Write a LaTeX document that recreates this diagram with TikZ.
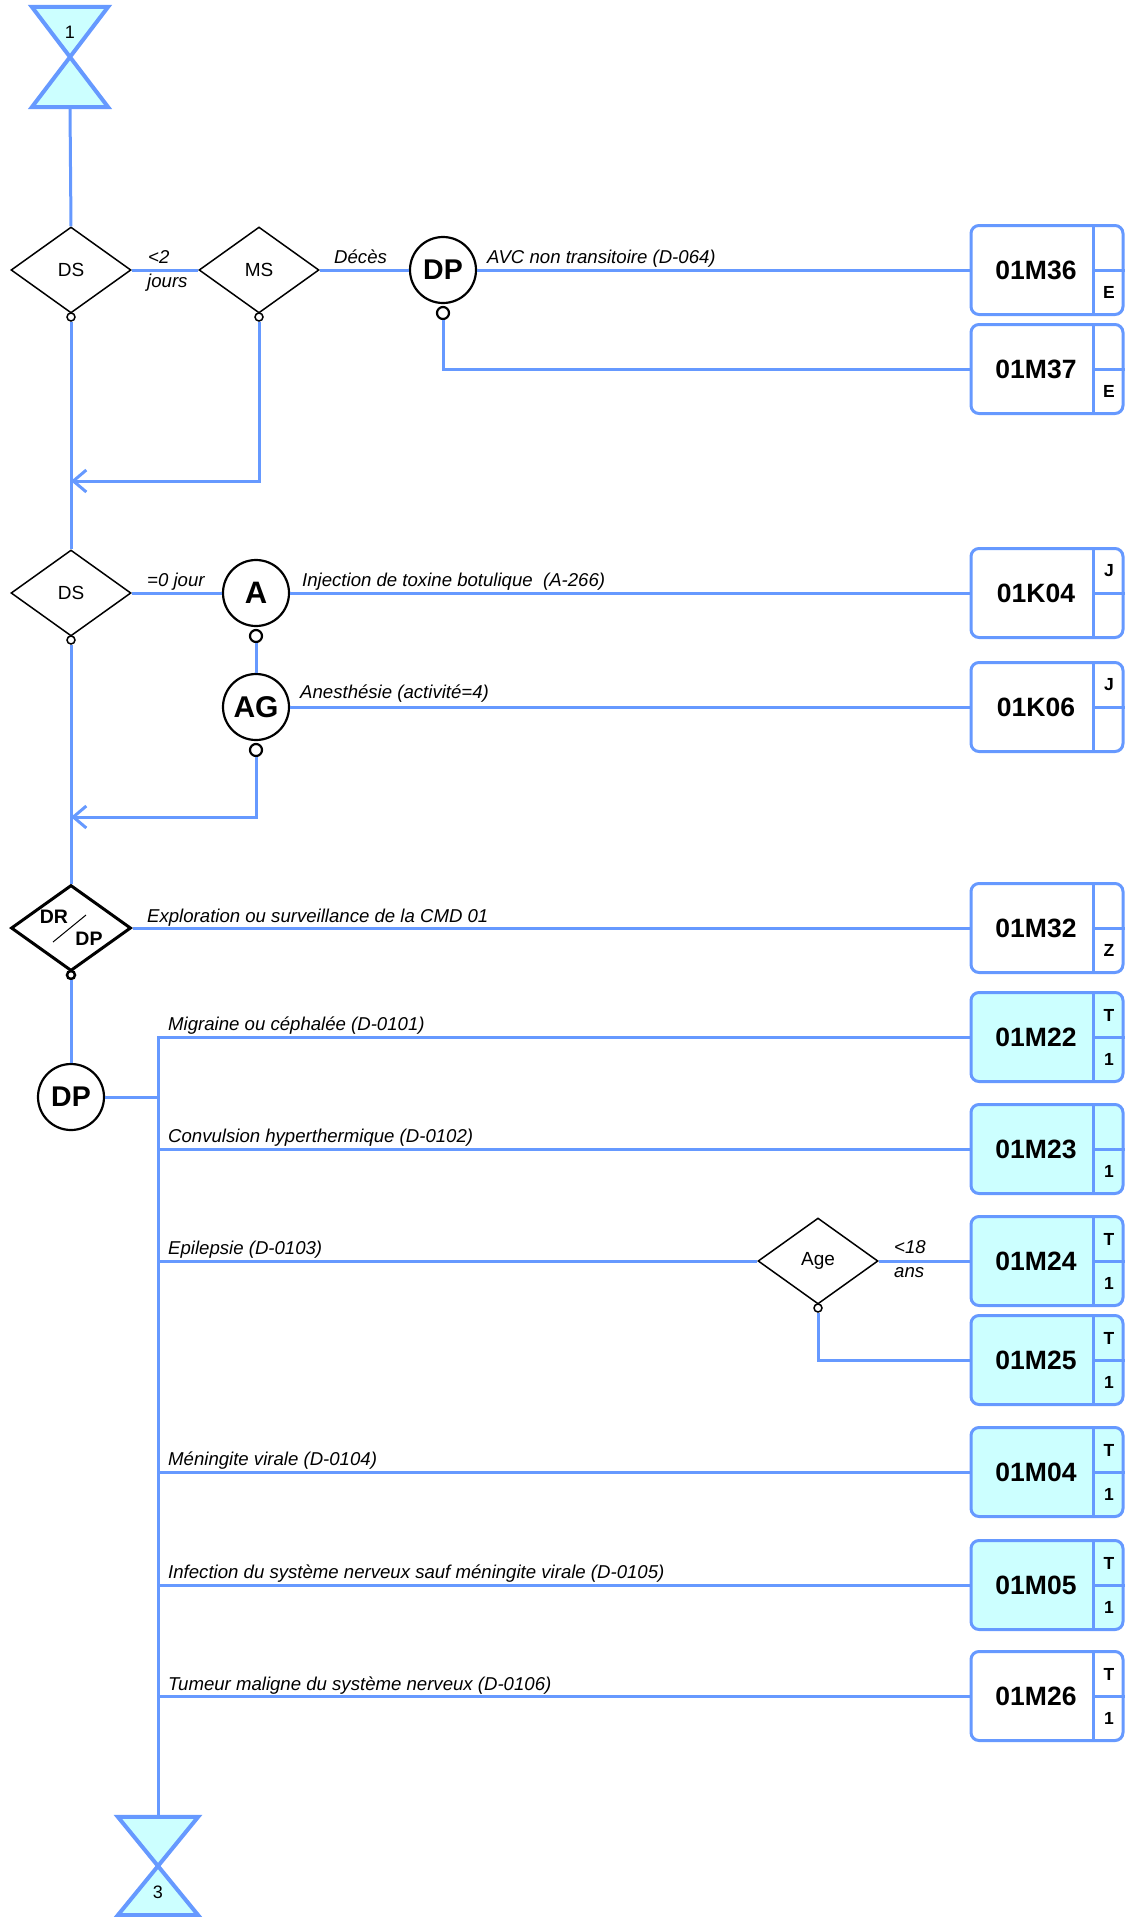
\documentclass[tikz,border=0pt]{standalone}
\usepackage{fontspec}
\setmainfont{Liberation Sans}
\usetikzlibrary{shapes.geometric,arrows.meta,calc}
\definecolor{lblue}{RGB}{102,153,255}
\definecolor{lcyan}{RGB}{204,255,255}
\newcommand\GHMbox[6]{%
  \node[ghm,fill=#6] (#1) at (1047,#2) {};
  \draw[draw=lblue,line width=3pt] ([xshift=-31pt]#1.north east) -- ([xshift=-31pt]#1.south east);
  \draw[draw=lblue,line width=3pt] ([xshift=-31pt]#1.east) -- (#1.east);
  \node[code] (#1c) at ([xshift=-11pt]#1.center) {#3};
  \node[cell] (#1t) at ([xshift=-15.5pt,yshift=22pt]#1.east) {#4};
  \node[cell] (#1b) at ([xshift=-15.5pt,yshift=-22pt]#1.east) {#5};
}
\begin{document}
\begin{tikzpicture}[x=1pt,y=-1pt,
  blueline/.style={draw=lblue,line width=3pt},
  dia/.style={diamond,draw=black,line width=1.5pt,fill=white,minimum width=120pt,minimum height=86pt,inner sep=0pt,font=\fontsize{19}{21}\selectfont},
  circ/.style={circle,draw=black,line width=2.2pt,fill=white,minimum size=66pt,inner sep=0pt,font=\bfseries\fontsize{28.5}{30}\selectfont},
  dot/.style={circle,draw=black,line width=1.5pt,fill=white,minimum size=8pt,inner sep=0pt},
  bigdot/.style={circle,draw=black,line width=2.2pt,fill=white,minimum size=12pt,inner sep=0pt},
  lab/.style={anchor=base west,inner sep=0pt,font=\itshape\fontsize{18.6}{20}\selectfont},
  ghm/.style={rectangle,rounded corners=8pt,draw=lblue,line width=3pt,minimum width=152pt,minimum height=89pt,inner sep=0pt},
  code/.style={font=\bfseries\fontsize{26.5}{28}\selectfont,inner sep=0pt},
  cell/.style={font=\bfseries\fontsize{17.5}{18}\selectfont,inner sep=0pt},
  hg/.style={draw=lblue,line width=4pt,fill=lcyan,line join=miter},
  hgnum/.style={font=\fontsize{18}{20}\selectfont,inner sep=0pt},
  arr/.style={-{Straight Barb[length=13pt,width=22pt,line width=3pt]}},
]
\useasboundingbox (0,0) rectangle (1135,1917);

% hourglasses
\node[minimum width=76pt,minimum height=100pt,inner sep=0pt] (h1) at (70,57) {};
\draw[hg] (h1.north west) -- (h1.north east) -- (h1.south west) -- (h1.south east) -- cycle;
\node[hgnum] (h1n) at (70,32) {1};
\node[minimum width=80pt,minimum height=98pt,inner sep=0pt] (h3) at (158,1866) {};
\draw[hg] (h3.north west) -- (h3.north east) -- (h3.south west) -- (h3.south east) -- cycle;
\node[hgnum] (h3n) at (158,1892) {3};

% boxes
\GHMbox{b36}{270}{01M36}{}{E}{white}
\GHMbox{b37}{369}{01M37}{}{E}{white}
\GHMbox{k04}{593}{01K04}{J}{}{white}
\GHMbox{k06}{707}{01K06}{J}{}{white}
\GHMbox{m32}{928}{01M32}{}{Z}{white}
\GHMbox{m22}{1037}{01M22}{T}{1}{lcyan}
\GHMbox{m23}{1149}{01M23}{}{1}{lcyan}
\GHMbox{m24}{1261}{01M24}{T}{1}{lcyan}
\GHMbox{m25}{1360}{01M25}{T}{1}{lcyan}
\GHMbox{m04}{1472}{01M04}{T}{1}{lcyan}
\GHMbox{m05}{1585}{01M05}{T}{1}{lcyan}
\GHMbox{m26}{1696}{01M26}{T}{1}{white}

% row 1
\node[dia] (ds1) at (71,270) {DS};
\node[dot] (ds1o) at (71,317) {};
\node[dia] (ms) at (259,270) {MS};
\node[dot] (mso) at (259,317) {};
\node[circ] (dp1) at (443,270) {DP};
\node[bigdot] (dp1o) at (443,313) {};
\coordinate (m1) at (71,481);

% row 2
\node[dia] (ds2) at (71,593) {DS};
\node[dot] (ds2o) at (71,640) {};
\node[circ,font=\bfseries\fontsize{31}{33}\selectfont] (a) at (256,593) {A};
\node[bigdot] (ao) at (256,636) {};
\node[circ,font=\bfseries\fontsize{30}{32}\selectfont] (ag) at (256,707) {AG};
\node[bigdot] (ago) at (256,750) {};
\coordinate (m2) at (71,817);

% DR/DP
\node[dia,line width=3pt] (drdp) at (71,928) {};
\node[inner sep=0pt,font=\bfseries\fontsize{19.5}{20}\selectfont] (drt) at (54,917) {DR};
\node[inner sep=0pt,font=\bfseries\fontsize{19.5}{20}\selectfont] (dpt) at (89,939) {DP};
\coordinate (sl1) at (53,942);
\coordinate (sl2) at (86,915);
\draw[line width=1pt] (sl1) -- (sl2);
\node[dot,line width=2.5pt] (drdpo) at (71,975) {};
\node[circ] (dp2) at (71,1097) {DP};
\coordinate (bus2) at (159,1097);
\coordinate (bus3) at (159,1149);
\coordinate (bus4) at (159,1261);
\coordinate (bus5) at (159,1472);
\coordinate (bus6) at (159,1585);
\coordinate (bus7) at (159,1696);

% Age
\node[dia] (age) at (818,1261) {Age};
\node[dot] (ageo) at (818,1308) {};

% connectors
\draw[blueline] (h1.south) -- (ds1.north);
\draw[blueline] (ds1.east) -- (ms.west);
\draw[blueline] (ms.east) -- (dp1.west);
\draw[blueline] (dp1.east) -- (b36.west);
\draw[blueline] (dp1o.south) |- (b37.west);
\draw[blueline,arr] (mso.south) |- (m1);
\draw[blueline] (ds1o.south) -- (ds2.north);

\draw[blueline] (ds2.east) -- (a.west);
\draw[blueline] (a.east) -- (k04.west);
\draw[blueline] (ao.south) -- (ag.north);
\draw[blueline] (ag.east) -- (k06.west);
\draw[blueline,arr] (ago.south) |- (m2);
\draw[blueline] (ds2o.south) -- (drdp.north);

\draw[blueline] (drdp.east) -- (m32.west);
\draw[blueline] (drdpo.south) -- (dp2.north);
\draw[blueline] (dp2.east) -- (bus2);
\draw[blueline] (m22.west) -| (h3.north);
\draw[blueline] (bus3) -- (m23.west);
\draw[blueline] (bus4) -- (age.west);
\draw[blueline] (age.east) -- (m24.west);
\draw[blueline] (ageo.south) |- (m25.west);
\draw[blueline] (bus5) -- (m04.west);
\draw[blueline] (bus6) -- (m05.west);
\draw[blueline] (bus7) -- (m26.west);

% labels
\node[lab] (t1) at (148,263) {<2};
\node[lab] (t2) at (147,287) {jours};
\node[lab] (t3) at (334,263) {Décès};
\node[lab] (t4) at (487,263) {AVC non transitoire (D-064)};
\node[lab] (t5) at (147,586) {=0 jour};
\node[lab] (t6) at (302,586) {Injection de toxine botulique\ \ (A-266)};
\node[lab] (t7) at (300,698) {Anesthésie (activité=4)};
\node[lab] (t8) at (147,922) {Exploration ou surveillance de la CMD 01};
\node[lab] (t9) at (168,1030) {Migraine ou céphalée (D-0101)};
\node[lab] (t10) at (168,1142) {Convulsion hyperthermique (D-0102)};
\node[lab] (t11) at (168,1254) {Epilepsie (D-0103)};
\node[lab] (t12) at (894,1253) {<18};
\node[lab] (t13) at (894,1277) {ans};
\node[lab] (t14) at (168,1465) {Méningite virale (D-0104)};
\node[lab] (t15) at (168,1578) {Infection du système nerveux sauf méningite virale (D-0105)};
\node[lab] (t16) at (168,1690) {Tumeur maligne du système nerveux (D-0106)};
\end{tikzpicture}
\end{document}
